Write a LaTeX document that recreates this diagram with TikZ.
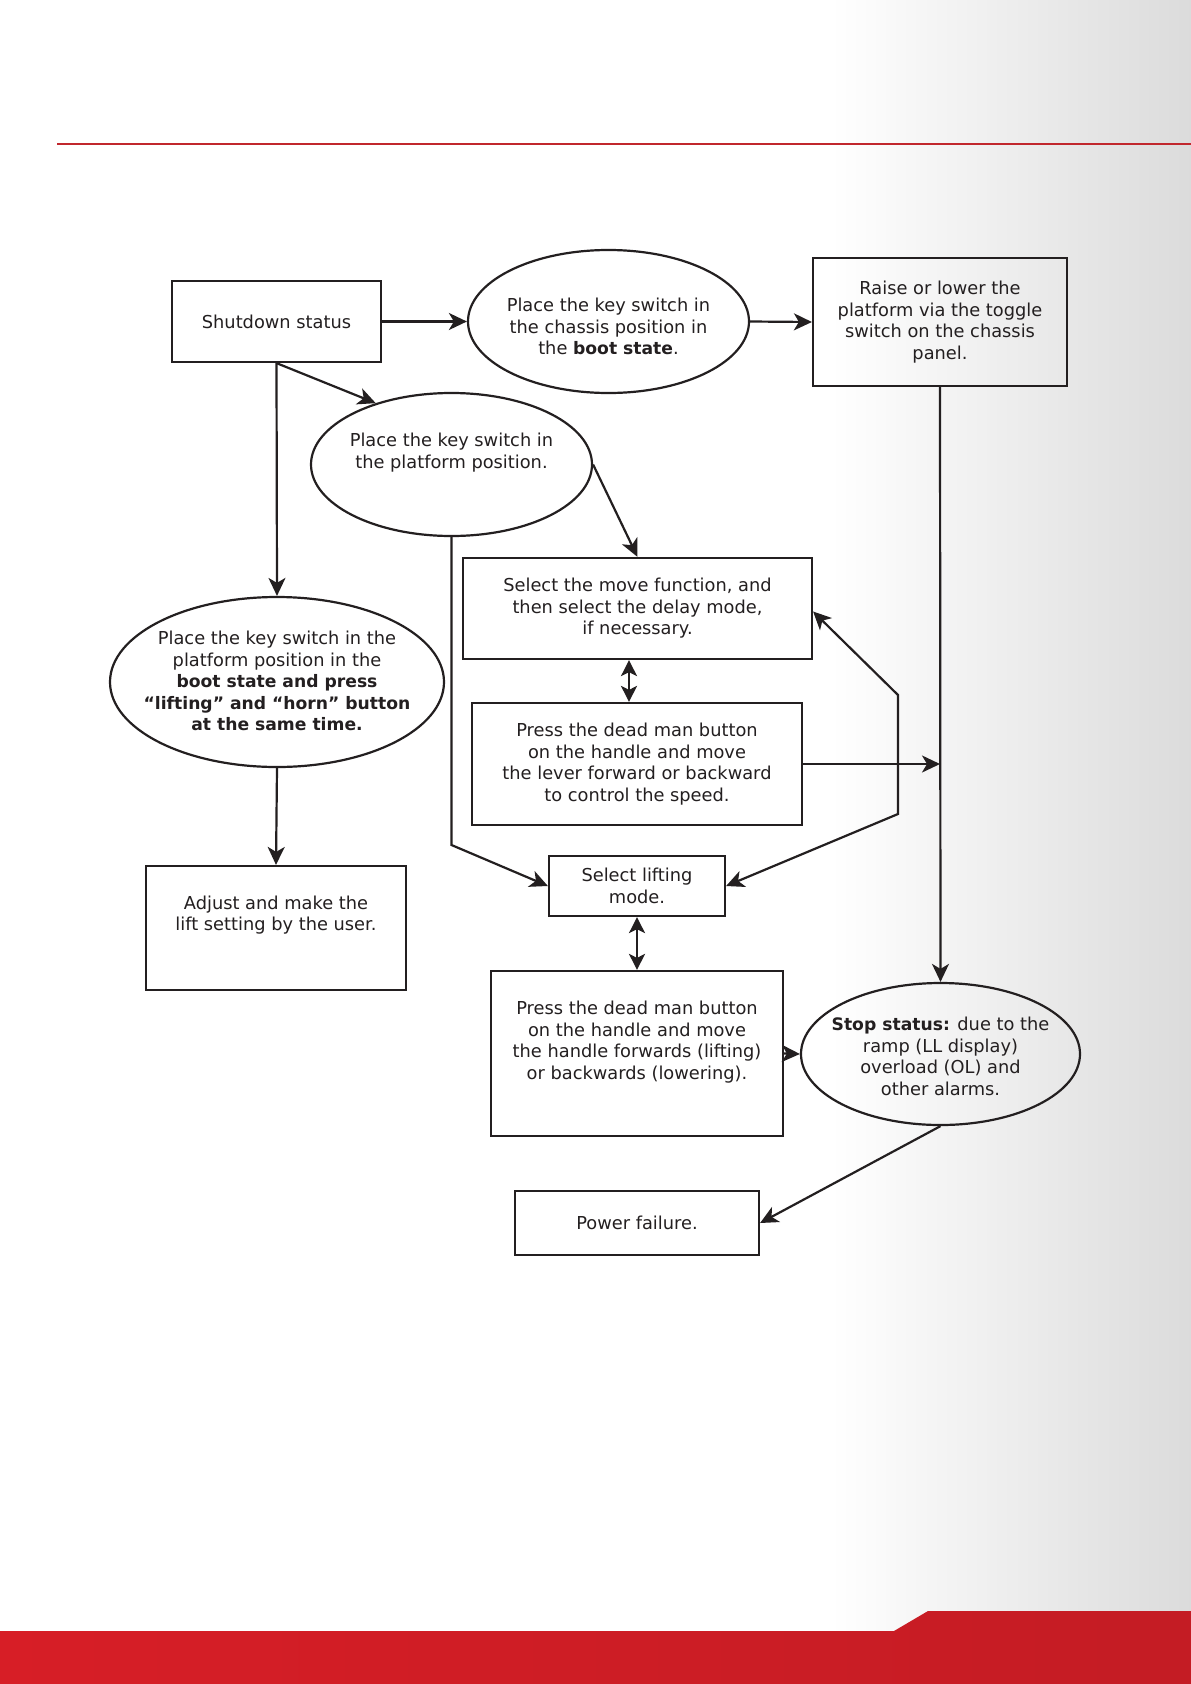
\documentclass[tikz,border=0pt]{standalone}
\usepackage{fontspec}
\setmainfont{DejaVu Sans}[BoldFeatures={Scale=0.965}]
\usetikzlibrary{arrows.meta,shapes.geometric}
\definecolor{ink}{HTML}{231F20}
\definecolor{redline}{HTML}{C1272D}
\definecolor{redL}{HTML}{D71E26}
\definecolor{redR}{HTML}{C41C24}
\newcommand\diafont{\fontsize{17.8}{21.5}\selectfont}
\begin{document}
\begin{tikzpicture}[x=1pt,y=-1pt,
  box/.style={draw=ink, line width=2.2pt, rectangle, inner sep=0pt, align=center, text=ink, font=\diafont},
  ell/.style={draw=ink, line width=2.2pt, ellipse, inner sep=0pt, align=center, text=ink, font=\diafont},
  txt/.style={align=center, text=ink, font=\diafont, inner sep=0pt},
  conn/.style={draw=ink, line width=2.2pt, -{Stealth[length=18pt,width=17pt,inset=5pt]}},
  dconn/.style={draw=ink, line width=2.2pt, {Stealth[length=16pt,width=16pt,inset=4pt]}-{Stealth[length=16pt,width=16pt,inset=4pt]}},
  bconn/.style={draw=ink, line width=2.2pt, {Stealth[length=18pt,width=17pt,inset=5pt]}-{Stealth[length=18pt,width=17pt,inset=5pt]}}
]
\useasboundingbox (0,0) rectangle (1191,1684);
\fill[white] (0,0) rectangle (1191,1684);
\shade[left color=white, right color=gray!28] (830,0) rectangle (1191,1684);
% header line
\draw[redline, line width=2.5pt] (57,144) -- (1191,144);
% bottom band
\shade[left color=redL, right color=redR] (0,1631) -- (894,1631) -- (928,1611) -- (1191,1611) -- (1191,1684) -- (0,1684) -- cycle;

% nodes
\node[box, minimum width=209pt, minimum height=81pt] (shut) at (276.5,321.5) {Shutdown status};
\node[ell, minimum width=281pt, minimum height=143pt] (chassis) at (608.5,321.5) {};
\node[txt] (tchassis) at (608.5,326.5) {Place the key switch in\\the chassis position in\\the \textbf{boot state}.};
\node[box, minimum width=254pt, minimum height=128pt] (raise) at (940,322) {Raise or lower the\\platform via the toggle\\switch on the chassis\\panel.};
\node[ell, minimum width=281pt, minimum height=143pt] (plat) at (451.5,464.5) {};
\node[txt] (tplat) at (451.5,452.5) {Place the key switch in\\the platform position.};
\node[box, minimum width=349pt, minimum height=101pt] (move) at (637.5,608.5) {Select the move function, and\\then select the delay mode,\\if necessary.};
\node[box, minimum width=330pt, minimum height=122pt] (lever) at (637,764) {Press the dead man button\\on the handle and move\\the lever forward or backward\\to control the speed.};
\node[ell, minimum width=334pt, minimum height=170pt] (bigell) at (277,682) {};
\node[txt] (tbigell) at (277,681) {Place the key switch in the\\platform position in the\\\textbf{boot state and press}\\\textbf{“lifting” and “horn” button}\\\textbf{at the same time.}};
\node[box, minimum width=260pt, minimum height=124pt] (adjust) at (276,928) {};
\node[txt] (tadjust) at (276,915) {Adjust and make the\\lift setting by the user.};
\node[box, minimum width=176pt, minimum height=60pt] (lift) at (637,886) {Select lifting\\mode.};
\node[box, minimum width=292pt, minimum height=165pt] (handle) at (637,1053.5) {};
\node[txt] (thandle) at (637,1042) {Press the dead man button\\on the handle and move\\the handle forwards (lifting)\\or backwards (lowering).};
\node[ell, minimum width=279pt, minimum height=142pt] (stop) at (940.5,1054) {};
\node[txt] (tstop) at (940.5,1056.5) {\textbf{Stop status:} due to the\\ramp (LL display)\\overload (OL) and\\other alarms.};
\node[box, minimum width=244pt, minimum height=64pt] (power) at (637,1223) {Power failure.};

% helper coordinates
\coordinate (fbend) at (451.5,845);
\coordinate (j1) at (898,814);
\coordinate (j2) at (898,695);

% connectors
\draw[conn] (shut.east) -- (chassis.west);
\draw[conn] (chassis.east) -- (raise.west);
\draw[conn] (shut.south) -- (plat.141.8);
\draw[conn] (shut.south) -- (bigell.north);
\draw[conn] (plat.east) -- (move.north);
\draw[conn] (plat.south) -- (fbend) -- (lift.west);
\draw[dconn] ([xshift=-8.5pt]move.south) -- ([xshift=-8pt]lever.north);
\draw[conn] (lever.east) -- (lever.east -| raise.south);
\draw[conn] (raise.south) -- (stop.north);
\draw[bconn] (lift.east) -- (j1) -- (j2) -- ([yshift=-3pt]move.east);
\draw[conn] (bigell.south) -- (adjust.north);
\draw[dconn] (lift.south) -- (handle.north);
\draw[conn] (handle.east) -- (stop.west);
\draw[conn] (stop.south) -- (power.east);
\end{tikzpicture}
\end{document}
